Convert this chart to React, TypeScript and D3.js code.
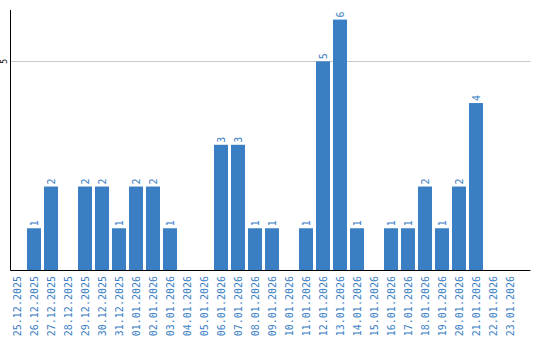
import React from "react";
import * as d3 from "d3";

const dates = [
  "25.12.2025","26.12.2025","27.12.2025","28.12.2025","29.12.2025","30.12.2025","31.12.2025",
  "01.01.2026","02.01.2026","03.01.2026","04.01.2026","05.01.2026","06.01.2026","07.01.2026",
  "08.01.2026","09.01.2026","10.01.2026","11.01.2026","12.01.2026","13.01.2026","14.01.2026",
  "15.01.2026","16.01.2026","17.01.2026","18.01.2026","19.01.2026","20.01.2026","21.01.2026",
  "22.01.2026","23.01.2026",
];
const counts = [0,1,2,0,2,2,1,2,2,1,0,0,3,3,1,1,0,1,5,6,1,0,1,1,2,1,2,4,0,0];
const yTicks = [5];

const W = 540, H = 340;
const left = 10.5, right = 530.5, top = 10, bottom = 270.5;
const blue = "#3a7ec3";
const mono = "'DejaVu Sans Mono', monospace";

export default function App() {
  const x = d3.scaleBand<string>().domain(dates).range([10, 520]).padding(0);
  const y = d3.scaleLinear().domain([0, 6.23]).range([270, 10]);
  const bw = x.bandwidth() - 3;
  return (
    <svg width={W} height={H} style={{ position: "absolute", left: 0, top: 0 }}>
      <rect width={W} height={H} fill="#fff" />
      {yTicks.map((t) => (
        <g key={t}>
          <line x1={left} x2={right} y1={Math.round(y(t)) + 0.5} y2={Math.round(y(t)) + 0.5} stroke="#c8c8c8" />
          <text transform={`translate(7,${y(t)}) rotate(-90)`} textAnchor="middle" fontSize={8} fontFamily={mono} fill="#000">{t}</text>
        </g>
      ))}
      {dates.map((d, i) => {
        const v = counts[i];
        const x0 = x(d)!;
        const cx = x0 + bw / 2;
        return (
          <g key={d}>
            {v > 0 && <rect x={x0} y={y(v)} width={bw} height={y(0) - y(v)} fill={blue} />}
            {v > 0 && (
              <text transform={`translate(${cx + 3.5},${y(v) - 2}) rotate(-90)`} textAnchor="start" fontSize={10} fontFamily={mono} fill={blue}>{v}</text>
            )}
            <text transform={`translate(${cx + 3.5},276) rotate(-90)`} textAnchor="end" fontSize={10} fontFamily={mono} fill={blue}>{d}</text>
          </g>
        );
      })}
      <line x1={left} x2={left} y1={top} y2={bottom} stroke="#000" />
      <line x1={left} x2={right} y1={bottom} y2={bottom} stroke="#000" />
    </svg>
  );
}
